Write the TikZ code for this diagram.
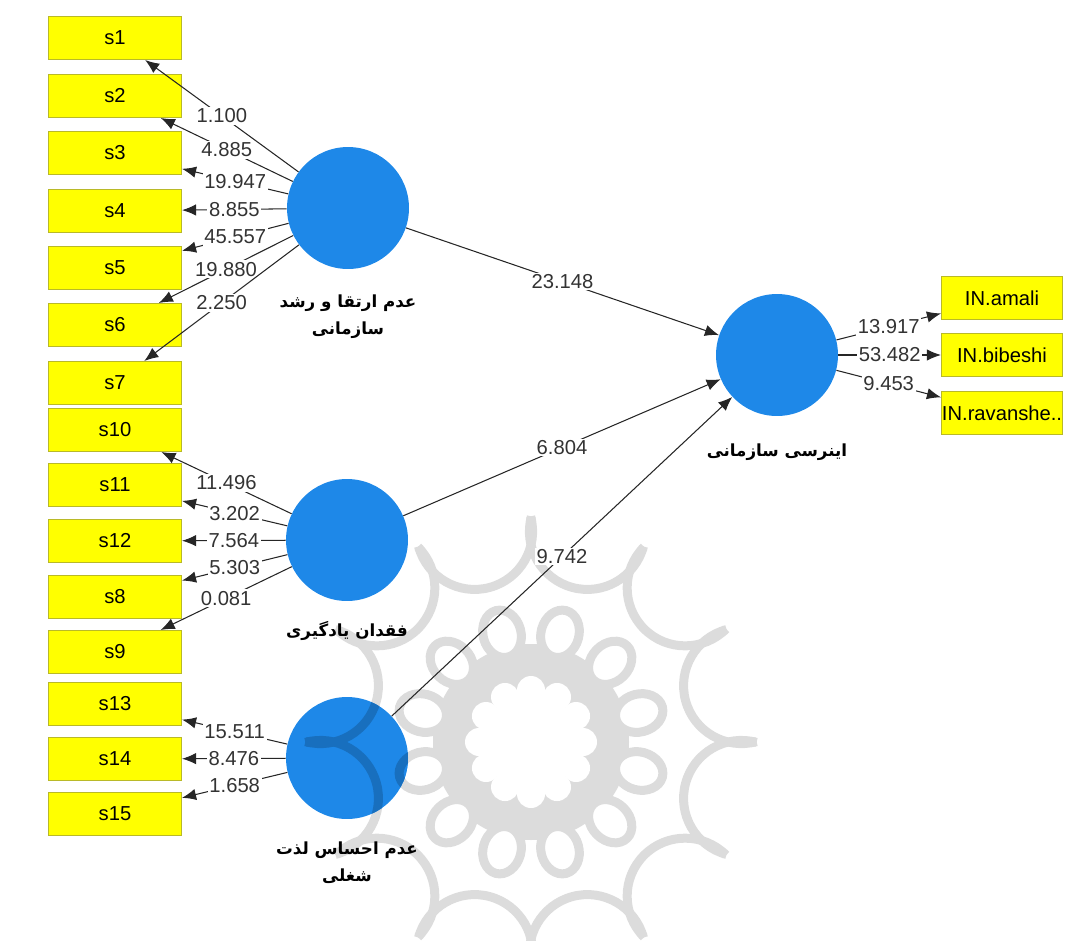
\documentclass[tikz,border=0pt]{standalone}
\usepackage{fontspec}
\setmainfont{Liberation Sans}
\newfontfamily\farsi[Script=Arabic]{DejaVu Sans}
\TeXXeTstate=1
\usetikzlibrary{arrows.meta,positioning}

\definecolor{lvblue}{RGB}{30,136,232}
\definecolor{indyellow}{RGB}{255,255,0}
\definecolor{indborder}{RGB}{185,185,40}
\definecolor{wmgray}{RGB}{220,220,220}

% twelve-fold rosette, #1 = stroke colour, #2 = paper colour
\newcommand{\rosette}[2]{%
    \fill[#1] (0,0) circle[radius=98];
    \fill[#2] (0,0) circle[radius=48];
    \foreach \a in {0,30,...,330}
        \fill[#2] (\a:52) circle[radius=14];
    \foreach \a in {15,45,...,345} {
        \begin{scope}[rotate=\a-90]
            \draw[#1,fill=#2] (0,112) ellipse[x radius=19,y radius=24];
            \draw[#1] (58,218) arc[start angle=0,end angle=-180,radius=58];
        \end{scope}
    }}

\begin{document}
\begin{tikzpicture}[x=0.02cm,y=-0.02cm,->,>={Latex[length=8pt,width=6.5pt]},
    font=\fontsize{11.5}{13}\selectfont,
    every edge/.style={draw=black!85,line width=0.6pt},
    lv/.style={circle,fill=lvblue,minimum size=2.44cm,inner sep=0pt},
    ind/.style={rectangle,fill=indyellow,draw=indborder,line width=0.6pt,minimum width=2.66cm,minimum height=0.86cm,inner sep=0pt},
    outind/.style={ind,minimum width=2.42cm},
    lvname/.style={align=center,font=\farsi\bfseries\fontsize{9.5}{15.5}\selectfont,inner sep=1pt},
    lbl/.style={fill=white,inner sep=1pt,text=black!80}]
    \useasboundingbox (0,0) rectangle (1065,940);

    % background rosette
    \begin{scope}
        \clip (0,0) rectangle (1065,940);
        \begin{scope}[shift={(531,742)},-,line width=0.18cm]
            \rosette{wmgray}{white}
        \end{scope}
    \end{scope}

    % indicators
    \foreach \n/\y in {1/38,2/96,3/153,4/211,5/268,6/325,7/383,10/430,11/485,12/541,8/597,9/652,13/704,14/759,15/814}
        \node[ind] (s\n) at (115,\y) {s\n};
    \node[outind] (amali) at (1002,298) {IN.amali};
    \node[outind] (bibeshi) at (1002,355) {IN.bibeshi};
    \node[outind] (ravanshe) at (1002,413) {IN.ravanshe..};

    % latent variables
    \node[lv] (irtiqa) at (348,208) {};
    \node[lv] (yadgiri) at (347,540) {};
    \node[lv] (lezzat) at (347,758) {};
    \node[lv] (inersi) at (777,355) {};
    \node[lvname] [below=0.46cm of irtiqa] {\beginR عدم ارتقا و رشد\endR\\\beginR سازمانی\endR};
    \node[lvname] [below=0.36cm of yadgiri] {\beginR فقدان یادگیری\endR};
    \node[lvname] [below=0.4cm of lezzat] {\beginR عدم احساس لذت\endR\\\beginR شغلی\endR};
    \node[lvname] [below=0.5cm of inersi] {\beginR اینرسی سازمانی\endR};

    % rosette showing through the lower circle
    \begin{scope}
        \clip (lezzat.center) circle[radius=61];
        \begin{scope}[shift={(531,742)},-,line width=0.18cm]
            \rosette{lvblue!82!black}{lvblue}
        \end{scope}
    \end{scope}

    \path (irtiqa) edge node[lbl] {1.100} (s1)
                   edge node[lbl] {4.885} (s2)
                   edge node[lbl] {19.947} (s3)
                   edge node[lbl] {8.855} (s4)
                   edge node[lbl] {45.557} (s5)
                   edge node[lbl] {19.880} (s6)
                   edge node[lbl] {2.250} (s7)
                   edge node[lbl] {23.148} (inersi)
          (yadgiri) edge node[lbl] {11.496} (s10)
                    edge node[lbl] {3.202} (s11)
                    edge node[lbl] {7.564} (s12)
                    edge node[lbl] {5.303} (s8)
                    edge node[lbl] {0.081} (s9)
                    edge node[lbl] {6.804} (inersi)
          (lezzat) edge node[lbl] {15.511} (s13)
                   edge node[lbl] {8.476} (s14)
                   edge node[lbl] {1.658} (s15)
                   edge node[lbl] {9.742} (inersi)
          (inersi) edge node[lbl] {13.917} (amali)
                   edge node[lbl] {53.482} (bibeshi)
                   edge node[lbl] {9.453} (ravanshe);
\end{tikzpicture}
\end{document}
